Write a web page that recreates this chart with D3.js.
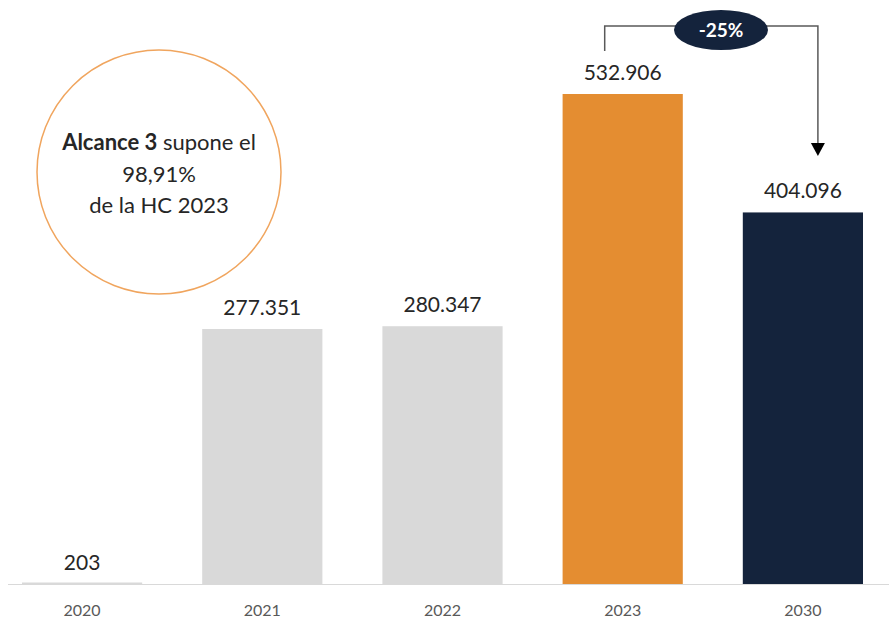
<!DOCTYPE html>
<html>
<head>
<meta charset="utf-8">
<script src="https://cdn.jsdelivr.net/npm/d3@7"></script>
<style>
  body { margin: 0; background: #fff; }
  svg text { font-family: Lato, "Open Sans", sans-serif; }
</style>
</head>
<body>
<svg width="889" height="621"></svg>
<script>
const years = ['2020', '2021', '2022', '2023', '2030'];
const values = [203, 277351, 280347, 532906, 404096];
const labels = ['203', '277.351', '280.347', '532.906', '404.096'];
const barColors = ['#d9d9d9', '#d9d9d9', '#d9d9d9', '#e48d31', '#14233c'];

const svg = d3.select('svg'),
    width = +svg.attr('width'),
    height = +svg.attr('height');

const baseY = 584;

const x = d3.scaleBand()
    .domain(years)
    .range([-8, 893])
    .paddingInner(0.333)
    .paddingOuter(0.1665);

const y = d3.scaleLinear()
    .domain([0, 532906])
    .range([baseY, 94]);

// axis line
svg.append('line')
    .attr('x1', 8).attr('x2', width)
    .attr('y1', baseY + 0.5).attr('y2', baseY + 0.5)
    .attr('stroke', '#d9d9d9')
    .attr('stroke-width', 1);

svg.append('g')
    .selectAll('rect')
    .data(years)
    .enter()
    .append('rect')
    .attr('x', d => x(d))
    .attr('width', x.bandwidth())
    .attr('y', (d, i) => Math.min(y(values[i]), baseY - 1.5))
    .attr('height', (d, i) => Math.max(baseY - y(values[i]), 1.5))
    .attr('fill', (d, i) => barColors[i]);

svg.append('g')
    .selectAll('text')
    .data(years)
    .enter()
    .append('text')
    .attr('x', d => x(d) + x.bandwidth() / 2)
    .attr('y', (d, i) => y(values[i]) - 14)
    .attr('text-anchor', 'middle')
    .attr('font-size', 21)
    .attr('fill', '#262626')
    .text((d, i) => labels[i]);

// x axis tick labels
svg.append('g')
    .selectAll('text')
    .data(years)
    .enter()
    .append('text')
    .attr('x', d => x(d) + x.bandwidth() / 2)
    .attr('y', 616)
    .attr('text-anchor', 'middle')
    .attr('font-size', 16)
    .attr('fill', '#595959')
    .text(d => d);

// circle callout
const circle = svg.append('g').attr('transform', 'translate(159,172)');
circle.append('circle')
    .attr('r', 122)
    .attr('fill', 'none')
    .attr('stroke', '#f0a55e')
    .attr('stroke-width', 1.5);

const l1 = circle.append('text')
    .attr('y', -22)
    .attr('text-anchor', 'middle')
    .attr('font-size', 22)
    .attr('fill', '#262626');
l1.append('tspan').attr('font-weight', 'bold').text('Alcance 3');
l1.append('tspan').text(' supone el');
circle.append('text')
    .attr('y', 10)
    .attr('text-anchor', 'middle')
    .attr('font-size', 22)
    .attr('fill', '#262626')
    .text('98,91%');
circle.append('text')
    .attr('y', 41)
    .attr('text-anchor', 'middle')
    .attr('font-size', 22)
    .attr('fill', '#262626')
    .text('de la HC 2023');

// -25% bracket
const fromX = x('2023') + x.bandwidth() / 2 - 18;
const toX = x('2030') + x.bandwidth() / 2 + 15;

svg.append('path')
    .attr('d', `M${fromX},51V26H${toX}V144`)
    .attr('fill', 'none')
    .attr('stroke', '#595959')
    .attr('stroke-width', 1.5);
svg.append('path')
    .attr('d', `M${toX - 7},143L${toX + 7},143L${toX},156Z`)
    .attr('fill', '#000');

svg.append('ellipse')
    .attr('cx', 721).attr('cy', 30)
    .attr('rx', 47).attr('ry', 20)
    .attr('fill', '#14233c');
svg.append('text')
    .attr('x', 721).attr('y', 37)
    .attr('text-anchor', 'middle')
    .attr('font-size', 19)
    .attr('font-weight', 'bold')
    .attr('fill', '#fff')
    .text('-25%');
</script>
</body>
</html>
